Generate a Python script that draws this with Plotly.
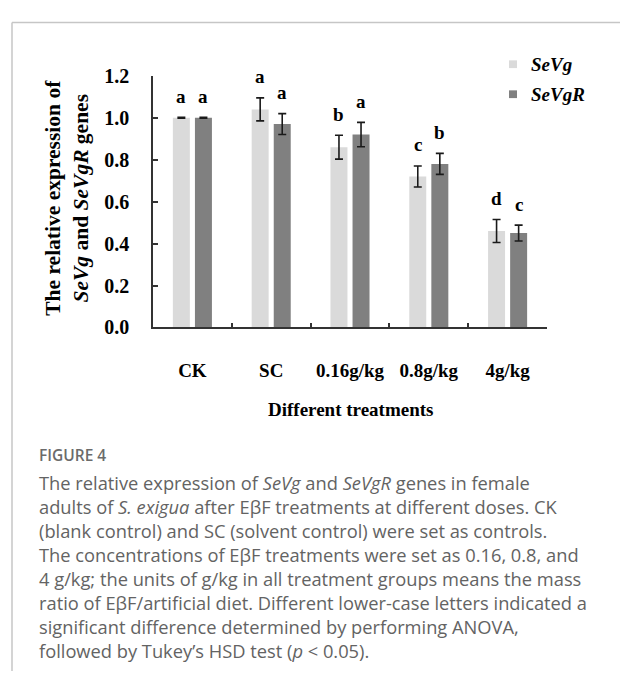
import plotly.graph_objects as go

# ---- data ----
treatments = ["CK", "SC", "0.16g/kg", "0.8g/kg", "4g/kg"]
sevg_mean = [1.00, 1.04, 0.86, 0.72, 0.46]
sevg_err = [0.002, 0.055, 0.057, 0.050, 0.055]
sevgr_mean = [1.00, 0.97, 0.92, 0.78, 0.45]
sevgr_err = [0.002, 0.050, 0.058, 0.050, 0.038]
sevg_letters = ["a", "a", "b", "c", "d"]
sevgr_letters = ["a", "a", "a", "b", "c"]
y_ticks = [0.0, 0.2, 0.4, 0.6, 0.8, 1.0, 1.2]

caption_lines = [
    "The relative expression of <i>SeVg</i> and <i>SeVgR</i> genes in female",
    "adults of <i>S. exigua</i> after EβF treatments at different doses. CK",
    "(blank control) and SC (solvent control) were set as controls.",
    "The concentrations of EβF treatments were set as 0.16, 0.8, and",
    "4 g/kg; the units of g/kg in all treatment groups means the mass",
    "ratio of EβF/artificial diet. Different lower-case letters indicated a",
    "significant difference determined by performing ANOVA,",
    "followed by Tukey’s HSD test (<i>p</i> &lt; 0.05).",
]

W, H = 620, 682
LIGHT = "#dadada"
DARK = "#808080"
SERIF = "Liberation Serif"
BARGAP = 0.44


def px(x):
    return x / W


def py(y):
    return 1 - y / H


fig = go.Figure()
fig.add_trace(go.Bar(
    x=treatments, y=sevg_mean, name="SeVg", marker_color=LIGHT,
    marker_line_width=0, showlegend=False,
    error_y=dict(type="data", array=sevg_err, color="#1a1a1a", thickness=1.6, width=4),
))
fig.add_trace(go.Bar(
    x=treatments, y=sevgr_mean, name="SeVgR", marker_color=DARK,
    marker_line_width=0, showlegend=False,
    error_y=dict(type="data", array=sevgr_err, color="#1a1a1a", thickness=1.6, width=4),
))

annotations = []
# significance letters above each error bar
off = (1 - BARGAP) / 4
for i in range(len(treatments)):
    for letters, mean, err, sign in ((sevg_letters, sevg_mean, sevg_err, -1),
                                     (sevgr_letters, sevgr_mean, sevgr_err, 1)):
        annotations.append(dict(
            x=i + sign * off, y=mean[i] + err[i], xref="x", yref="y",
            text=letters[i], showarrow=False, yanchor="middle", yshift=21,
            font=dict(family=SERIF, size=19, color="black", weight="bold"),
        ))

# axis titles
annotations.append(dict(
    x=px(350), y=py(412), xref="paper", yref="paper", showarrow=False,
    text="Different treatments", xanchor="center", yanchor="middle",
    font=dict(family=SERIF, size=19, color="black", weight="bold"),
))
annotations.append(dict(
    x=px(67), y=py(193), xref="paper", yref="paper", showarrow=False,
    text="The relative expression of<br><i>SeVg</i> and <i>SeVgR</i> genes",
    textangle=-90, xanchor="center", yanchor="middle",
    font=dict(family=SERIF, size=21.5, color="black", weight="bold"),
))

# legend
legend_items = [("SeVg", LIGHT, 55), ("SeVgR", DARK, 86)]
shapes = []
for label, color, yc in legend_items:
    shapes.append(dict(type="rect", xref="paper", yref="paper",
                       x0=px(509), x1=px(517), y0=py(yc + 4), y1=py(yc - 4),
                       fillcolor=color, line_width=0))
    annotations.append(dict(
        x=px(529), y=py(yc), xref="paper", yref="paper", showarrow=False,
        text="<i>" + label + "</i>", xanchor="left", yanchor="middle",
        font=dict(family=SERIF, size=19, color="black", weight="bold"),
    ))

# figure frame lines
shapes.append(dict(type="line", xref="paper", yref="paper", x0=px(12), x1=1,
                   y0=py(12), y1=py(12), line=dict(color="#c6c6c6", width=1.5)))
shapes.append(dict(type="line", xref="paper", yref="paper", x0=px(12), x1=px(12),
                   y0=0, y1=py(12), line=dict(color="#c6c6c6", width=1.5)))

# caption
CAP_X = 37
annotations.append(dict(
    x=px(CAP_X), y=py(459), xref="paper", yref="paper", showarrow=False,
    text="FIGURE 4", xanchor="left", yanchor="middle",
    font=dict(family="Open Sans", size=15.5, color="#6b6b6b", weight=600),
))
for k, line in enumerate(caption_lines):
    annotations.append(dict(
        x=px(CAP_X), y=py(487 + 24.9 * k), xref="paper", yref="paper", showarrow=False,
        text=line, xanchor="left", yanchor="middle",
        font=dict(family="Open Sans", size=18.3, color="#636363"),
    ))

fig.update_layout(
    width=W, height=H, autosize=False,
    margin=dict(l=0, r=0, t=0, b=0),
    paper_bgcolor="white", plot_bgcolor="white",
    barmode="group", bargap=BARGAP, bargroupgap=0.23,
    annotations=annotations, shapes=shapes,
    xaxis=dict(
        domain=[px(153), px(547)], type="category", range=[-0.5, 4.5],
        showline=True, linecolor="#333333", linewidth=1.5,
        ticks="inside", tickson="boundaries", ticklen=5, tickwidth=1.5, tickcolor="#333333",
        tickfont=dict(family=SERIF, size=19, color="black", weight="bold"),
        ticklabelstandoff=25, showgrid=False, zeroline=False,
    ),
    yaxis=dict(
        domain=[py(327), py(67)], range=[0, 1.2],
        tickvals=y_ticks, tickformat=".1f",
        showline=True, linecolor="#333333", linewidth=1.5,
        ticks="inside", ticklen=5, tickwidth=1.5, tickcolor="#333333",
        tickfont=dict(family=SERIF, size=20, color="black", weight="bold"),
        ticklabelstandoff=18, showgrid=False, zeroline=False,
    ),
)

fig.write_html("out.html")
